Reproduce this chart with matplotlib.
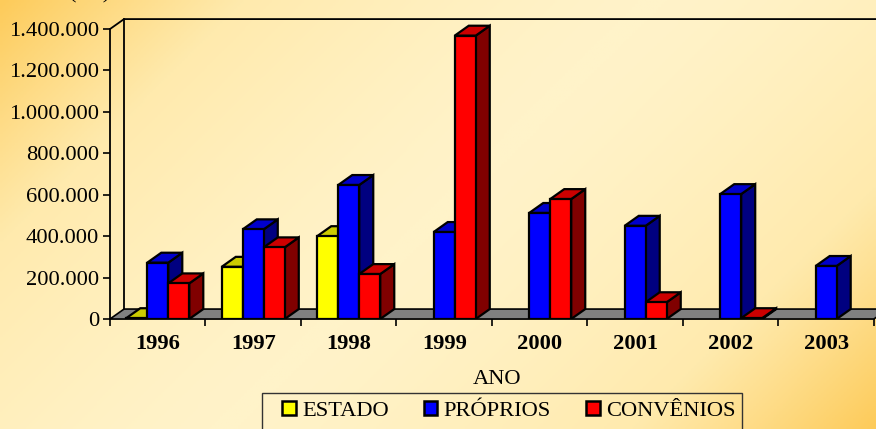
import numpy as np
import matplotlib
matplotlib.use('Agg')
import matplotlib.pyplot as plt
from matplotlib.patches import Polygon, Patch, Rectangle
from matplotlib.colors import LinearSegmentedColormap

plt.rcParams['font.family'] = ['Liberation Serif', 'DejaVu Serif']

# Data (values in R$), None = no bar
anos = ['1996', '1997', '1998', '1999', '2000', '2001', '2002', '2003']
estado = [4000, 252000, 400000, None, None, None, None, None]
proprios = [272000, 433000, 647000, 420000, 512000, 450000, 603000, 256000]
convenios = [172000, 346000, 217000, 1368000, 579000, 81000, 4000, None]
series_names = ['ESTADO', 'PRÓPRIOS', 'CONVÊNIOS']
yticks = [0, 200000, 400000, 600000, 800000, 1000000, 1200000, 1400000]

# colours: front, top, side
colors = [('#FFFF00', '#CCCC00', '#808000'),
          ('#0000FF', '#0000CC', '#000080'),
          ('#FF0000', '#CC0000', '#800000')]

fs = 16.2

# 3D depth in data units
dx = 0.147
dy = 48000
w = 0.22
ymax = 1400000

fig = plt.figure(figsize=(8.76, 4.29), dpi=100)

# background gradient (diagonal: darker corners top-left / bottom-right)
bg = fig.add_axes([0, 0, 1, 1], zorder=-10)
xx, yy = np.meshgrid(np.linspace(0, 1, 300), np.linspace(0, 1, 150))
t = np.abs((xx * 876 + yy * 429) / (876 + 429) - 0.5) * 2
cmap = LinearSegmentedColormap.from_list('bg', ['#FFF3C9', '#FFEAAD', '#FDCB5A'])
bg.imshow(t ** 1.5, cmap=cmap, aspect='auto', extent=[0, 1, 0, 1], vmin=0, vmax=1)
bg.axis('off')

ax = fig.add_axes([110 / 876, 110 / 429, 783 / 876, 302.4 / 429])
ax.patch.set_alpha(0)
ax.set_xlim(0, 8.2)
ax.set_ylim(0, ymax + 60000)

# walls and floor
ax.plot([0, dx, 9], [ymax, ymax + dy, ymax + dy], color='black', lw=1.3, zorder=1)
ax.plot([dx, dx], [dy, ymax + dy], color='black', lw=1.3, zorder=1)
floor = Polygon([(0, 0), (8, 0), (8 + dx, dy), (dx, dy)], closed=True,
                facecolor='#808080', edgecolor='black', lw=1.2, zorder=2)
ax.add_patch(floor)

# bars
off = (1 - 3 * w) / 2
z = 3
for i in range(len(anos)):
    for j, vals in enumerate([estado, proprios, convenios]):
        v = vals[i]
        if v is None:
            continue
        x0 = i + off + j * w
        front_c, top_c, side_c = colors[j]
        front = Polygon([(x0, 0), (x0 + w, 0), (x0 + w, v), (x0, v)],
                        facecolor=front_c, edgecolor='black', lw=1.6, zorder=z)
        top = Polygon([(x0, v), (x0 + dx, v + dy), (x0 + w + dx, v + dy), (x0 + w, v)],
                      facecolor=top_c, edgecolor='black', lw=1.6, zorder=z)
        side = Polygon([(x0 + w, 0), (x0 + w + dx, dy), (x0 + w + dx, v + dy), (x0 + w, v)],
                       facecolor=side_c, edgecolor='black', lw=1.6, zorder=z)
        ax.add_patch(side)
        ax.add_patch(top)
        ax.add_patch(front)
        z += 1

# axes
for s in ['top', 'right']:
    ax.spines[s].set_visible(False)
ax.spines['left'].set_bounds(0, ymax)
ax.spines['bottom'].set_bounds(0, 8)
ax.spines['left'].set_linewidth(1.3)
ax.spines['bottom'].set_linewidth(1.3)
ax.spines['bottom'].set_zorder(1)

ax.set_yticks(yticks)
ax.set_yticklabels([f'{v:,}'.replace(',', '.') for v in yticks], fontsize=fs)
ax.tick_params(axis='y', length=5, width=1.2, pad=3)

ax.set_xticks(range(9))
ax.set_xticklabels([])
ax.tick_params(axis='x', which='major', length=5, width=1.2)
ax.set_xticks(np.arange(len(anos)) + 0.5, minor=True)
ax.set_xticklabels(anos, minor=True, fontsize=fs, fontweight='bold')
ax.tick_params(axis='x', which='minor', length=0, pad=11)

fig.text(497 / 876, 1 - 380 / 429, 'ANO', ha='center', va='center', fontsize=fs)
fig.text(90 / 876, 1.004, '(R$)', ha='center', va='baseline', fontsize=fs)

# legend with a separate frame box
handles = [Patch(facecolor=c[0], edgecolor='black', lw=1.8) for c in colors]
leg = fig.legend(handles, series_names, loc='center left',
                 bbox_to_anchor=(282 / 876, 1 - 411 / 429), ncol=3, fontsize=fs,
                 frameon=False, borderaxespad=0, borderpad=0,
                 handlelength=0.62, handleheight=0.62, handletextpad=0.27,
                 columnspacing=1.55)
fig.patches.append(Rectangle((262 / 876, -0.02), 480 / 876, 1 - 393 / 429 + 0.02,
                             transform=fig.transFigure, fill=False,
                             edgecolor='#333333', lw=1.0))

fig.savefig('out.png', dpi=100)
